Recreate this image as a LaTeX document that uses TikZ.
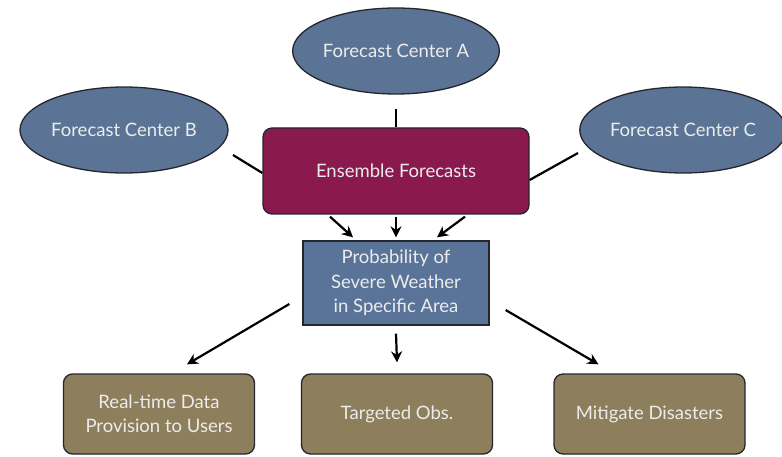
\documentclass[tikz,border=0pt]{standalone}
\usepackage{fontspec}
\setmainfont{Lato}
\usetikzlibrary{shapes.geometric,arrows.meta}
\definecolor{ellfill}{HTML}{5B7496}
\definecolor{ensfill}{HTML}{8A1A4E}
\definecolor{probfill}{HTML}{5A7499}
\definecolor{botfill}{HTML}{8E7F5C}
\definecolor{edgecol}{HTML}{25252E}
\definecolor{txtcol}{HTML}{ECECEC}
\begin{document}
\begin{tikzpicture}[x=1pt,y=-1pt,
  every node/.style={font=\fontsize{18.5}{24.5}\selectfont, text=txtcol, inner sep=0pt},
  ell/.style={ellipse, draw=edgecol, line width=1.3pt, fill=ellfill, minimum width=#1, minimum height=86pt},
  ensbox/.style={rectangle, rounded corners=9pt, draw=edgecol, line width=1.3pt, fill=ensfill, minimum width=266pt, minimum height=86pt},
  probbox/.style={rectangle, draw=edgecol, line width=1.3pt, fill=probfill, minimum width=186pt, minimum height=84pt, align=center},
  botbox/.style={rectangle, rounded corners=9pt, draw=edgecol, line width=1.3pt, fill=botfill, minimum width=191pt, minimum height=80pt, align=center},
  conn/.style={draw=black, line width=2.2pt},
  arr/.style={conn, -{Stealth[length=11pt,width=11pt,inset=3.5pt]}}
]
\useasboundingbox[fill=white] (0,0) rectangle (782,457);

\node[ell=206pt] (A) at (396,51) {Forecast Center A};
\node[ell=208pt] (B) at (124,130) {Forecast Center B};
\node[ell=198pt] (C) at (683,130) {Forecast Center C};
\node[ensbox] (ens) at (396,171) {Ensemble Forecasts};
\node[probbox] (prob) at (396,283) {Probability of\\Severe Weather\\in Specific Area};
\node[botbox] (L) at (159,414) {Real-time Data\\Provision to Users};
\node[botbox] (M) at (397,414) {Targeted Obs.};
\node[botbox] (R) at (649.5,414) {Mitigate Disasters};

\coordinate (bEnd) at (233,155);
\coordinate (cEnd) at (578,153);

\draw[conn] ([yshift=-14pt]A.south) -- (ens.north);
\draw[conn] (bEnd) -- ([yshift=-2pt]ens.west);
\draw[conn] (cEnd) -- ([yshift=-9pt]ens.east);

\draw[arr] ([xshift=-66pt,yshift=-2pt]ens.south) -- ([xshift=-43pt,yshift=3pt]prob.north);
\draw[arr] ([yshift=-2pt]ens.south) -- ([yshift=3pt]prob.north);
\draw[arr] ([xshift=69pt,yshift=-2pt]ens.south) -- ([xshift=41pt,yshift=3pt]prob.north);

\draw[arr] ([xshift=-13pt,yshift=-21pt]prob.west) -- ([xshift=28pt,yshift=9pt]L.north);
\draw[arr] ([yshift=-8pt]prob.south) -- ([yshift=11pt]M.north);
\draw[arr] ([xshift=16pt,yshift=-27pt]prob.east) -- ([xshift=-51pt,yshift=9pt]R.north);
\end{tikzpicture}
\end{document}
